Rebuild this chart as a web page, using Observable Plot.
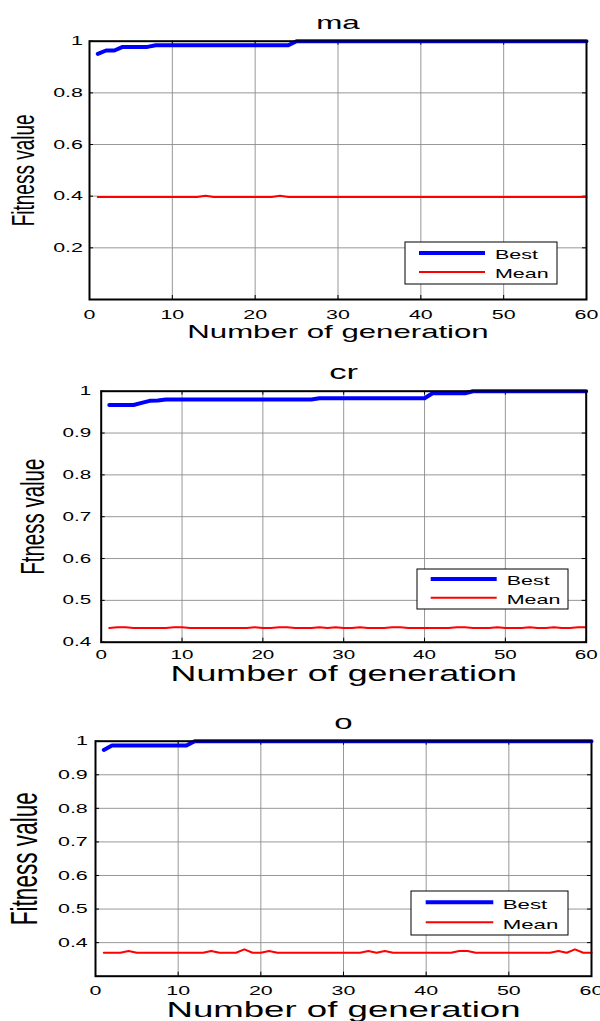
<!DOCTYPE html>
<html><head><meta charset="utf-8">
<script src="https://cdn.jsdelivr.net/npm/d3@7"></script>
<script src="https://cdn.jsdelivr.net/npm/@observablehq/plot@0.6"></script>
<style>
body{margin:0;background:#fff;}
#root{position:relative;width:600px;height:1021px;overflow:hidden;font-family:"Liberation Sans",Arial,sans-serif;background:#fff;}
#root svg{position:absolute;left:0;}
</style></head><body><div id="root"></div>
<script>
// ---- data ----
const generations = [1,2,3,4,5,6,7,8,9,10,11,12,13,14,15,16,17,18,19,20,21,22,23,24,25,26,27,28,29,30,
  31,32,33,34,35,36,37,38,39,40,41,42,43,44,45,46,47,48,49,50,51,52,53,54,55,56,57,58,59,60];
const xTicks = [0,10,20,30,40,50,60];
const seriesNames = ["Best","Mean"];

const bestMa = [0.951,0.964,0.964,0.978,0.978,0.978,0.978,
  0.984,0.984,0.984,0.984,0.984,0.984,0.984,0.984,0.984,0.984,0.984,0.984,0.984,0.984,0.984,0.984,0.984,
  1,1,1,1,1,1,1,1,1,1, 1,1,1,1,1,1,1,1,1,1, 1,1,1,1,1,1,1,1,1,1, 1,1,1,1,1,1];
const meanMa = [0.397,0.397,0.397,0.397,0.397,0.397,0.397,0.397,0.397,0.397,
  0.397,0.397,0.397,0.402,0.397,0.397,0.397,0.397,0.397,0.397,
  0.397,0.397,0.402,0.397,0.397,0.397,0.397,0.397,0.397,0.397,
  0.397,0.397,0.397,0.397,0.397,0.397,0.397,0.397,0.397,0.397,
  0.397,0.397,0.397,0.397,0.397,0.397,0.397,0.397,0.397,0.397,
  0.397,0.397,0.397,0.397,0.397,0.397,0.397,0.397,0.397,0.397];

const bestCr = [0.967,0.967,0.967,0.967,0.972,0.977,0.978,
  0.980,0.980,0.980,0.980,0.980,0.980,0.980,0.980,0.980,0.980,0.980,0.980,0.980,0.980,0.980,0.980,0.980,0.980,0.980,
  0.983,0.983,0.983,0.983,0.983,0.983,0.983,0.983,0.983,0.983,0.983,0.983,0.983,0.983,
  0.995,0.995,0.995,0.995,0.995,
  1,1,1,1,1,1,1,1,1,1,1,1,1,1,1];
const meanCr = [0.434,0.436,0.436,0.434,0.434,0.434,0.434,0.434,0.436,0.436,
  0.434,0.434,0.434,0.434,0.434,0.434,0.434,0.434,0.436,0.434,
  0.434,0.436,0.436,0.434,0.434,0.434,0.436,0.434,0.436,0.434,
  0.434,0.436,0.434,0.434,0.434,0.436,0.436,0.434,0.434,0.434,
  0.434,0.434,0.434,0.436,0.436,0.434,0.434,0.434,0.436,0.434,
  0.434,0.434,0.436,0.434,0.434,0.436,0.434,0.434,0.436,0.436];

const bestO = [0.974,
  0.987,0.987,0.987,0.987,0.987,0.987,0.987,0.987,0.987,0.987,
  1,1,1,1,1,1,1,1,1,1, 1,1,1,1,1,1,1,1,1,1, 1,1,1,1,1,1,1,1,1,1, 1,1,1,1,1,1,1,1,1,1, 1,1,1,1,1,1,1,1,1];
const meanO = [0.370,0.370,0.370,0.375,0.370,0.370,0.370,0.370,0.370,0.370,
  0.370,0.370,0.370,0.375,0.370,0.370,0.370,0.380,0.370,0.370,
  0.375,0.370,0.370,0.370,0.370,0.370,0.370,0.370,0.370,0.370,
  0.370,0.370,0.375,0.370,0.375,0.370,0.370,0.370,0.370,0.370,
  0.370,0.370,0.370,0.375,0.375,0.370,0.370,0.370,0.370,0.370,
  0.370,0.370,0.370,0.370,0.370,0.375,0.370,0.380,0.370,0.370];

const yTicksMa = [0.2,0.4,0.6,0.8,1];
const yTicksCr = [0.4,0.5,0.6,0.7,0.8,0.9,1];
const yTicksO = [0.4,0.5,0.6,0.7,0.8,0.9,1];

// ---- layout ----
const S = 1.65; // horizontal stretch of the original figure's text
const panels = [
  {title:"ma", ylabel:"Fitness value", best:bestMa, mean:meanMa, ydomain:[0,1], yticks:yTicksMa,
   top:0, height:345, mt:40.7, mb:46, ml:89, mr:14,
   tickFont:13, xpad:10, ypad:6.5, titleFont:19, titleDy:-12.7, xlabFont:18.9, xlabDy:38.3, ylabFont:19, ylabDx:-66,
   legend:{x0:405,y0:242,x1:557,y1:284, lx0:419, lx1:485, ly:[253,272], tx:495, ty:[259.3,278.3], font:13}},
  {title:"cr", ylabel:"Ftness value", best:bestCr, mean:meanCr, ydomain:[0.4,1], yticks:yTicksCr,
   top:345, height:345, mt:45.7, mb:48.3, ml:100.7, mr:14.3,
   tickFont:12.5, xpad:8.3, ypad:10, titleFont:21, titleDy:-12.4, xlabFont:21.7, xlabDy:39, ylabFont:20.5, ylabDx:-67.7,
   legend:{x0:417,y0:569,x1:568,y1:609, lx0:430.7, lx1:496.7, ly:[579,597.7], tx:506.7, ty:[585,604], font:13}},
  {title:"o", ylabel:"Fitness value", best:bestO, mean:meanO, ydomain:[0.3,1], yticks:yTicksO,
   top:690, height:331, mt:50.7, mb:45.3, ml:95, mr:9,
   tickFont:13, xpad:9.3, ypad:7.7, titleFont:20, titleDy:-12.7, xlabFont:22.2, xlabDy:40.3, ylabFont:22.6, ylabDx:-70,
   legend:{x0:411,y0:891,x1:568,y1:935, lx0:425.7, lx1:493.3, ly:[902.3,922.3], tx:502.7, ty:[909,929.3], font:13.5}}
];

const root = document.getElementById("root");
const colors = {Best:"#0000ff", Mean:"#ff0000"};
const widths = {Best:4, Mean:2};

function stretchTexts(svg){
  svg.querySelectorAll("text").forEach(t => {
    const tr = t.getAttribute("transform") || "";
    if (tr.includes("rotate")) t.setAttribute("transform", tr + ` scale(1,${S})`);
    else t.setAttribute("transform", tr + ` scale(${S},1)`);
  });
}

panels.forEach(cfg => {
  const fh = cfg.height - cfg.mt - cfg.mb;
  const fw = 600 - cfg.ml - cfg.mr;
  const rows = [];
  seriesNames.forEach(s => {
    const vals = s === "Best" ? cfg.best : cfg.mean;
    generations.forEach((g, i) => rows.push({g, v: vals[i], s}));
  });
  const grid = cfg.yticks.filter(v => v > cfg.ydomain[0] && v < cfg.ydomain[1]);
  const svg = Plot.plot({
    width: 600, height: cfg.height,
    marginTop: cfg.mt, marginBottom: cfg.mb, marginLeft: cfg.ml, marginRight: cfg.mr,
    style: {fontFamily: "'Liberation Sans', Arial, sans-serif", fontSize: cfg.tickFont + "px", background: "transparent", overflow: "visible", color: "black"},
    x: {domain: [0, 60]},
    y: {domain: cfg.ydomain},
    marks: [
      Plot.gridX(xTicks.slice(1, -1), {stroke: "#8c8c8c", strokeOpacity: 1, strokeWidth: 0.9}),
      Plot.gridY(grid, {stroke: "#8c8c8c", strokeOpacity: 1, strokeWidth: 0.9}),
      Plot.ruleX(xTicks, {x: d => d, insetTop: fh - 4, stroke: "black"}),
      Plot.ruleX(xTicks, {x: d => d, insetBottom: fh - 4, stroke: "black"}),
      Plot.ruleY(cfg.yticks, {y: d => d, insetRight: fw - 4, stroke: "black"}),
      Plot.ruleY(cfg.yticks, {y: d => d, insetLeft: fw - 4, stroke: "black"}),
      Plot.axisX(xTicks, {tickSize: 0, tickPadding: cfg.xpad, fontSize: cfg.tickFont, label: null, tickFormat: d => String(d)}),
      Plot.axisY(cfg.yticks, {tickSize: 0, tickPadding: cfg.ypad, fontSize: cfg.tickFont, label: null, tickFormat: d => String(d)}),
      Plot.line(rows, {x: "g", y: "v", z: "s", stroke: d => colors[d.s], strokeWidth: d => widths[d.s], curve: "linear"}),
      Plot.frame({stroke: "black", strokeWidth: 2}),
      Plot.text([cfg.title], {text: d => d, frameAnchor: "top", textAnchor: "middle", lineAnchor: "bottom", dy: cfg.titleDy, fontSize: cfg.titleFont, fill: "black"}),
      Plot.text(["Number of generation"], {text: d => d, frameAnchor: "bottom", textAnchor: "middle", lineAnchor: "bottom", dy: cfg.xlabDy, fontSize: cfg.xlabFont, fill: "black"}),
      Plot.text([cfg.ylabel], {text: d => d, frameAnchor: "left", textAnchor: "middle", rotate: -90, lineAnchor: "middle", dx: cfg.ylabDx, fontSize: cfg.ylabFont, fill: "black"})
    ]
  });
  svg.style.top = cfg.top + "px";
  stretchTexts(svg);
  root.appendChild(svg);
});

// ---- legends ----
const leg = d3.create("svg").attr("width", 600).attr("height", 1021).style("top", "0px").style("pointer-events", "none");
panels.forEach(cfg => {
  const L = cfg.legend;
  leg.append("rect").attr("x", L.x0).attr("y", L.y0).attr("width", L.x1 - L.x0).attr("height", L.y1 - L.y0)
    .attr("fill", "white").attr("stroke", "black").attr("stroke-width", 1);
  seriesNames.forEach((s, i) => {
    leg.append("line").attr("x1", L.lx0).attr("x2", L.lx1).attr("y1", L.ly[i]).attr("y2", L.ly[i])
      .attr("stroke", colors[s]).attr("stroke-width", widths[s]);
    leg.append("text").attr("transform", `translate(${L.tx},${L.ty[i]}) scale(${S},1)`)
      .attr("font-family", "'Liberation Sans', Arial, sans-serif").attr("font-size", L.font).attr("fill", "black").text(s);
  });
});
root.appendChild(leg.node());
</script></body></html>
